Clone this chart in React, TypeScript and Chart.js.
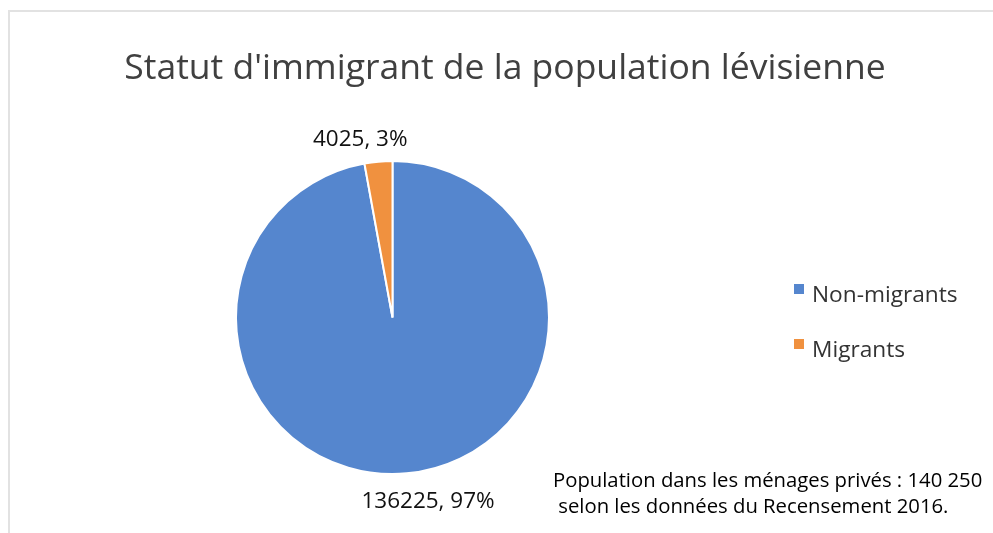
import React, { useEffect, useRef } from "react";
import { Chart, registerables } from "chart.js";

Chart.register(...registerables);

const categories = ["Non-migrants", "Migrants"];
const values = [136225, 4025];
const sliceColors = ["#5586CE", "#F0913F"];
const titleText = "Statut d'immigrant de la population lévisienne";
const noteLines = [
  "Population dans les ménages privés : 140 250",
  " selon les données du Recensement 2016.",
];

const FONT = "'Open Sans', 'Noto Sans', sans-serif";

function drawText(
  ctx: CanvasRenderingContext2D,
  text: string,
  x: number,
  y: number,
  size: number,
  color: string,
  align: CanvasTextAlign
) {
  ctx.save();
  ctx.font = `${size}px ${FONT}`;
  ctx.fillStyle = color;
  ctx.textAlign = align;
  ctx.textBaseline = "alphabetic";
  ctx.fillText(text, x, y);
  ctx.restore();
}

const decorPlugin = {
  id: "decor",
  beforeDraw(chart: any) {
    const ctx: CanvasRenderingContext2D = chart.ctx;
    ctx.save();
    ctx.fillStyle = "#ffffff";
    ctx.fillRect(0, 0, chart.width, chart.height);
    ctx.strokeStyle = "#e2e2e2";
    ctx.lineWidth = 2;
    ctx.strokeRect(9, 11, chart.width + 20, chart.height + 20);
    ctx.restore();
  },
  afterDraw(chart: any) {
    const ctx: CanvasRenderingContext2D = chart.ctx;
    // title
    drawText(ctx, titleText, 505, 79, 35.5, "#404040", "center");

    // data labels
    const meta = chart.getDatasetMeta(0);
    const total = values.reduce((a, b) => a + b, 0);
    const tweaks = [
      { r: 27, dx: 19 },
      { r: 24, dx: -16 },
    ];
    meta.data.forEach((arc: any, i: number) => {
      const p = arc.getProps(["x", "y", "startAngle", "endAngle", "outerRadius"], true);
      const mid = (p.startAngle + p.endAngle) / 2;
      const r = p.outerRadius + tweaks[i].r;
      const x = p.x + Math.cos(mid) * r + tweaks[i].dx;
      const y = p.y + Math.sin(mid) * r;
      const pct = Math.round((values[i] / total) * 100);
      drawText(ctx, `${values[i]}, ${pct}%`, x, y + 8, 22.5, "#111111", "center");
    });

    // legend
    const legendX = 794;
    const legendY = [284, 339];
    categories.forEach((c, i) => {
      ctx.fillStyle = sliceColors[i];
      ctx.fillRect(legendX, legendY[i], 10, 10);
      drawText(ctx, c, legendX + 18, legendY[i] + 18, 22.7, "#333333", "left");
    });

    // note
    drawText(ctx, noteLines[0], 553, 487, 20.3, "#000000", "left");
    drawText(ctx, noteLines[1], 553, 513, 20.3, "#000000", "left");
  },
};

export default function App() {
  const ref = useRef<HTMLCanvasElement | null>(null);
  useEffect(() => {
    document.body.style.margin = "0";
    document.body.style.overflow = "hidden";
    const chart = new Chart(ref.current as HTMLCanvasElement, {
      type: "pie",
      data: {
        labels: categories,
        datasets: [
          {
            data: values,
            backgroundColor: sliceColors,
            borderColor: "#ffffff",
            borderWidth: 2,
          },
        ],
      },
      options: {
        animation: false,
        responsive: false,
        devicePixelRatio: 1,
        layout: { padding: { left: 235, right: 443, top: 160, bottom: 58 } },
        plugins: {
          legend: { display: false },
          title: { display: false },
          tooltip: { enabled: false },
        },
      },
      plugins: [decorPlugin],
    });
    return () => chart.destroy();
  }, []);
  return (
    <div style={{ position: "absolute", left: 0, top: 0, width: 993, height: 533 }}>
      <canvas ref={ref} width={993} height={533} style={{ width: 993, height: 533 }} />
    </div>
  );
}
